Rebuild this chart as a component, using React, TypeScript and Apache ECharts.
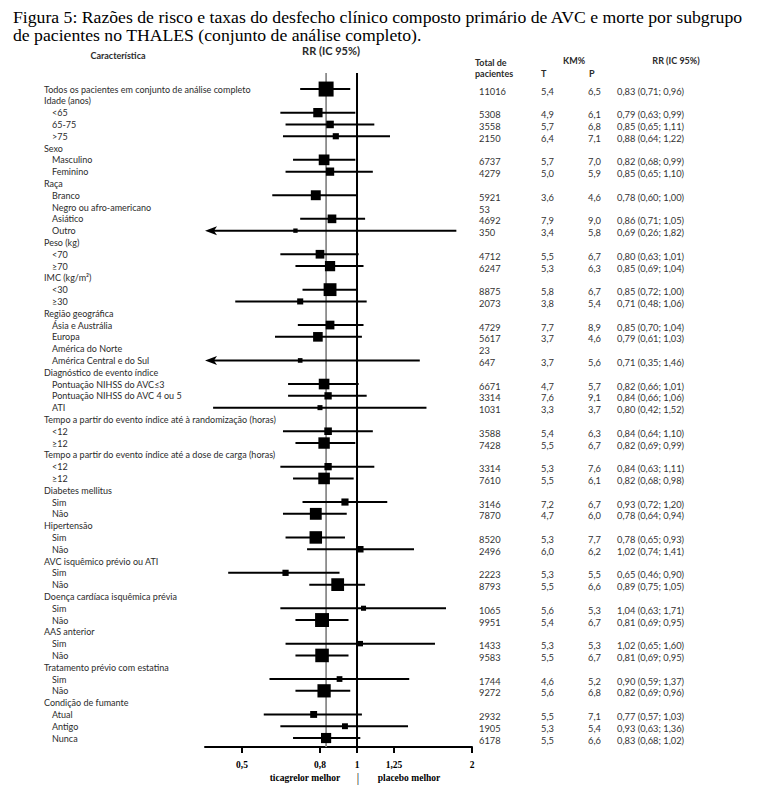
import React, { useEffect, useRef } from "react";
import * as echarts from "echarts";

const labels = [
  "Todos os pacientes em conjunto de análise completo", "Idade (anos)", "<65", "65-75", ">75",
  "Sexo", "Masculino", "Feminino", "Raça", "Branco", "Negro ou afro-americano", "Asiático", "Outro",
  "Peso (kg)", "<70", "≥70", "IMC (kg/m²)", "<30", "≥30", "Região geográfica", "Ásia e Austrália",
  "Europa", "América do Norte", "América Central e do Sul", "Diagnóstico de evento índice",
  "Pontuação NIHSS do AVC≤3", "Pontuação NIHSS do AVC 4 ou 5", "ATI",
  "Tempo a partir do evento índice até à randomização (horas)", "<12", "≥12",
  "Tempo a partir do evento índice até a dose de carga (horas)", "<12", "≥12",
  "Diabetes mellitus", "Sim", "Não", "Hipertensão", "Sim", "Não", "AVC isquêmico prévio ou ATI",
  "Sim", "Não", "Doença cardíaca isquêmica prévia", "Sim", "Não", "AAS anterior", "Sim", "Não",
  "Tratamento prévio com estatina", "Sim", "Não", "Condição de fumante", "Atual", "Antigo", "Nunca",
];
const levels = [
  0, 0, 1, 1, 1, 0, 1, 1, 0, 1, 1, 1, 1, 0, 1, 1, 0, 1, 1, 0, 1, 1, 1, 1, 0, 1, 1, 1,
  0, 1, 1, 0, 1, 1, 0, 1, 1, 0, 1, 1, 0, 1, 1, 0, 1, 1, 0, 1, 1, 0, 1, 1, 0, 1, 1, 1,
];
const totals = [
  11016, null, 5308, 3558, 2150, null, 6737, 4279, null, 5921, 53, 4692, 350, null, 4712, 6247,
  null, 8875, 2073, null, 4729, 5617, 23, 647, null, 6671, 3314, 1031, null, 3588, 7428, null,
  3314, 7610, null, 3146, 7870, null, 8520, 2496, null, 2223, 8793, null, 1065, 9951, null, 1433,
  9583, null, 1744, 9272, null, 2932, 1905, 6178,
];
const kmT = [
  5.4, null, 4.9, 5.7, 6.4, null, 5.7, 5.0, null, 3.6, null, 7.9, 3.4, null, 5.5, 5.3, null, 5.8,
  3.8, null, 7.7, 3.7, null, 3.7, null, 4.7, 7.6, 3.3, null, 5.4, 5.5, null, 5.3, 5.5, null, 7.2,
  4.7, null, 5.3, 6.0, null, 5.3, 5.5, null, 5.6, 5.4, null, 5.3, 5.5, null, 4.6, 5.6, null, 5.5,
  5.3, 5.5,
];
const kmP = [
  6.5, null, 6.1, 6.8, 7.1, null, 7.0, 5.9, null, 4.6, null, 9.0, 5.8, null, 6.7, 6.3, null, 6.7,
  5.4, null, 8.9, 4.6, null, 5.6, null, 5.7, 9.1, 3.7, null, 6.3, 6.7, null, 7.6, 6.1, null, 6.7,
  6.0, null, 7.7, 6.2, null, 5.5, 6.6, null, 5.3, 6.7, null, 5.3, 6.7, null, 5.2, 6.8, null, 7.1,
  5.4, 6.6,
];
const rr = [
  0.83, null, 0.79, 0.85, 0.88, null, 0.82, 0.85, null, 0.78, null, 0.86, 0.69, null, 0.8, 0.85,
  null, 0.85, 0.71, null, 0.85, 0.79, null, 0.71, null, 0.82, 0.84, 0.8, null, 0.84, 0.82, null,
  0.84, 0.82, null, 0.93, 0.78, null, 0.78, 1.02, null, 0.65, 0.89, null, 1.04, 0.81, null, 1.02,
  0.81, null, 0.9, 0.82, null, 0.77, 0.93, 0.83,
];
const ciLow = [
  0.71, null, 0.63, 0.65, 0.64, null, 0.68, 0.65, null, 0.6, null, 0.71, 0.26, null, 0.63, 0.69,
  null, 0.72, 0.48, null, 0.7, 0.61, null, 0.35, null, 0.66, 0.66, 0.42, null, 0.64, 0.69, null,
  0.63, 0.68, null, 0.72, 0.64, null, 0.65, 0.74, null, 0.46, 0.75, null, 0.63, 0.69, null, 0.65,
  0.69, null, 0.59, 0.69, null, 0.57, 0.63, 0.68,
];
const ciHigh = [
  0.96, null, 0.99, 1.11, 1.22, null, 0.99, 1.1, null, 1.0, null, 1.05, 1.82, null, 1.01, 1.04,
  null, 1.0, 1.06, null, 1.04, 1.03, null, 1.46, null, 1.01, 1.06, 1.52, null, 1.1, 0.99, null,
  1.11, 0.98, null, 1.2, 0.94, null, 0.93, 1.41, null, 0.9, 1.05, null, 1.71, 0.95, null, 1.6,
  0.95, null, 1.37, 0.96, null, 1.03, 1.36, 1.02,
];
const xTicks = [0.5, 0.8, 1, 1.25, 2];
const xTickLabels = ["0,5", "0,8", "1", "1,25", "2"];
const refLines = [0.83, 1];

const X_MIN = 0.4;
const X_MAX = 2;
const Y_MIN = -1.36;
const Y_MAX = 55.76;
const N_MAX = 11016;

const SANS = "Lato, 'Open Sans', sans-serif";
const SERIF = "'Liberation Serif', 'DejaVu Serif', serif";

const f2 = (v: number) => v.toFixed(2).replace(".", ",");
const f1 = (v: number) => v.toFixed(1).replace(".", ",");

export default function App() {
  const ref = useRef<HTMLDivElement>(null);
  useEffect(() => {
    const chart = echarts.init(ref.current!, null, { renderer: "svg" });

    const forestData = rr
      .map((v, i) => (v == null ? null : [v, i, ciLow[i], ciHigh[i], totals[i]]))
      .filter((d) => d != null);

    const textStyle = (extra: any) => ({
      fill: "#2b2b2b",
      fontFamily: SANS,
      fontSize: 9,
      verticalAlign: "middle",
      ...extra,
    });

    const option: any = {
      animation: false,
      backgroundColor: "#ffffff",
      grid: { left: 205, right: 286, top: 73, bottom: 59 },
      xAxis: {
        type: "log",
        logBase: 10,
        min: X_MIN,
        max: X_MAX,
        axisLine: { show: true, onZero: false, lineStyle: { color: "#000", width: 2 } },
        axisTick: { show: false },
        axisLabel: { show: false },
        splitLine: { show: false },
      },
      yAxis: {
        type: "value",
        inverse: true,
        min: Y_MIN,
        max: Y_MAX,
        show: false,
        splitLine: { show: false },
      },
      graphic: [
        {
          type: "text",
          x: 13,
          y: 16.5,
          style: {
            text: "Figura 5: Razões de risco e taxas do desfecho clínico composto primário de AVC e morte por subgrupo",
            fontFamily: SERIF,
            fontSize: 17.7,
            fill: "#000",
            verticalAlign: "middle",
          },
        },
        {
          type: "text",
          x: 13,
          y: 35,
          style: {
            text: "de pacientes no THALES (conjunto de análise completo).",
            fontFamily: SERIF,
            fontSize: 17.7,
            fill: "#000",
            verticalAlign: "middle",
          },
        },
        { type: "text", x: 118, y: 55, style: textStyle({ text: "Característica", align: "center", fontWeight: "bold", fontSize: 9 }) },
        { type: "text", x: 331, y: 50, style: textStyle({ text: "RR (IC 95%)", align: "center", fontWeight: "bold", fontSize: 11 }) },
        { type: "text", x: 475, y: 62, style: textStyle({ text: "Total de", align: "left", fontWeight: "bold", fontSize: 9 }) },
        { type: "text", x: 475, y: 73, style: textStyle({ text: "pacientes", align: "left", fontWeight: "bold", fontSize: 9 }) },
        { type: "text", x: 574, y: 60, style: textStyle({ text: "KM%", align: "center", fontWeight: "bold", fontSize: 9 }) },
        { type: "text", x: 541, y: 73, style: textStyle({ text: "T", align: "left", fontWeight: "bold", fontSize: 9 }) },
        { type: "text", x: 589, y: 73, style: textStyle({ text: "P", align: "left", fontWeight: "bold", fontSize: 9 }) },
        { type: "text", x: 676, y: 60, style: textStyle({ text: "RR (IC 95%)", align: "center", fontWeight: "bold", fontSize: 9 }) },
        { type: "text", x: 305, y: 778, style: { text: "ticagrelor melhor", align: "center", verticalAlign: "middle", fontFamily: SERIF, fontWeight: "bold", fontSize: 9.5, fill: "#000" } },
        { type: "text", x: 358, y: 778, style: { text: "|", align: "center", verticalAlign: "middle", fontFamily: SERIF, fontSize: 12, fill: "#000" } },
        { type: "text", x: 409, y: 778, style: { text: "placebo melhor", align: "center", verticalAlign: "middle", fontFamily: SERIF, fontWeight: "bold", fontSize: 9.5, fill: "#000" } },
      ],
      series: [
        {
          type: "custom",
          name: "ref",
          silent: true,
          clip: false,
          data: refLines.map((v, i) => [v, i]),
          renderItem: (params: any, api: any) => {
            const v = api.value(0);
            const p1 = api.coord([v, Y_MIN]);
            const p2 = api.coord([v, Y_MAX]);
            const isOne = params.dataIndex === 1;
            return {
              type: "line",
              shape: { x1: p1[0], y1: p1[1], x2: p2[0], y2: p2[1] },
              style: { stroke: isOne ? "#000" : "#8c8c8c", lineWidth: isOne ? 2 : 1.8 },
            };
          },
        },
        {
          type: "custom",
          name: "forest",
          silent: true,
          clip: false,
          encode: { x: 0, y: 1 },
          data: forestData,
          renderItem: (params: any, api: any) => {
            const v = api.value(0);
            const i = api.value(1);
            const lo = api.value(2);
            const hi = api.value(3);
            const n = api.value(4);
            const c = api.coord([v, i]);
            const cy = c[1];
            const truncated = lo < X_MIN;
            const xl = api.coord([Math.max(lo, X_MIN), i])[0];
            const xr = api.coord([Math.min(hi, X_MAX), i])[0];
            const s = 4 + (11 * n) / N_MAX;
            const children: any[] = [
              {
                type: "line",
                shape: { x1: truncated ? xl + 6 : xl, y1: cy, x2: xr, y2: cy },
                style: { stroke: "#000", lineWidth: 2 },
              },
              {
                type: "rect",
                shape: { x: c[0] - s / 2, y: cy - s / 2, width: s, height: s },
                style: { fill: "#000" },
              },
            ];
            if (truncated) {
              children.push({
                type: "polygon",
                shape: { points: [[xl, cy], [xl + 12, cy - 4.5], [xl + 9, cy], [xl + 12, cy + 4.5]] },
                style: { fill: "#000" },
              });
            }
            return { type: "group", children };
          },
        },
        {
          type: "custom",
          name: "ticks",
          silent: true,
          clip: false,
          data: xTicks.map((v, i) => [v, i]),
          renderItem: (params: any, api: any) => {
            const v = api.value(0);
            const k = api.value(1);
            const p = api.coord([v, Y_MAX]);
            return {
              type: "group",
              children: [
                { type: "line", shape: { x1: p[0], y1: p[1], x2: p[0], y2: p[1] + 6 }, style: { stroke: "#000", lineWidth: 2 } },
                {
                  type: "text",
                  style: {
                    text: xTickLabels[k],
                    x: p[0],
                    y: p[1] + 18,
                    align: "center",
                    verticalAlign: "middle",
                    fontFamily: SERIF,
                    fontWeight: "bold",
                    fontSize: 9.5,
                    fill: "#000",
                  },
                },
              ],
            };
          },
        },
        {
          type: "custom",
          name: "rows",
          silent: true,
          clip: false,
          data: labels.map((_, i) => [1, i]),
          renderItem: (params: any, api: any) => {
            const i = api.value(1);
            const y = api.coord([1, i])[1];
            const yr = y + 2;
            const children: any[] = [
              { type: "text", style: textStyle({ text: labels[i], x: levels[i] ? 52 : 44, y, align: "left" }) },
            ];
            if (totals[i] != null) {
              children.push({ type: "text", style: textStyle({ text: String(totals[i]), x: 479, y: yr, align: "left", fill: "#333", fontSize: 9.3 }) });
            }
            if (kmT[i] != null) {
              children.push({ type: "text", style: textStyle({ text: f1(kmT[i] as number), x: 541, y: yr, align: "left", fill: "#333", fontSize: 9.3 }) });
            }
            if (kmP[i] != null) {
              children.push({ type: "text", style: textStyle({ text: f1(kmP[i] as number), x: 588, y: yr, align: "left", fill: "#333", fontSize: 9.3 }) });
            }
            if (rr[i] != null) {
              children.push({
                type: "text",
                style: textStyle({
                  text: `${f2(rr[i] as number)} (${f2(ciLow[i] as number)}; ${f2(ciHigh[i] as number)})`,
                  x: 617,
                  y: yr,
                  align: "left",
                  fill: "#333",
                  fontSize: 9.3,
                }),
              });
            }
            return { type: "group", children };
          },
        },
      ],
    };

    chart.setOption(option);
    return () => chart.dispose();
  }, []);

  return (
    <div
      ref={ref}
      style={{ position: "absolute", left: 0, top: 0, width: 758, height: 806, background: "#fff" }}
    />
  );
}
